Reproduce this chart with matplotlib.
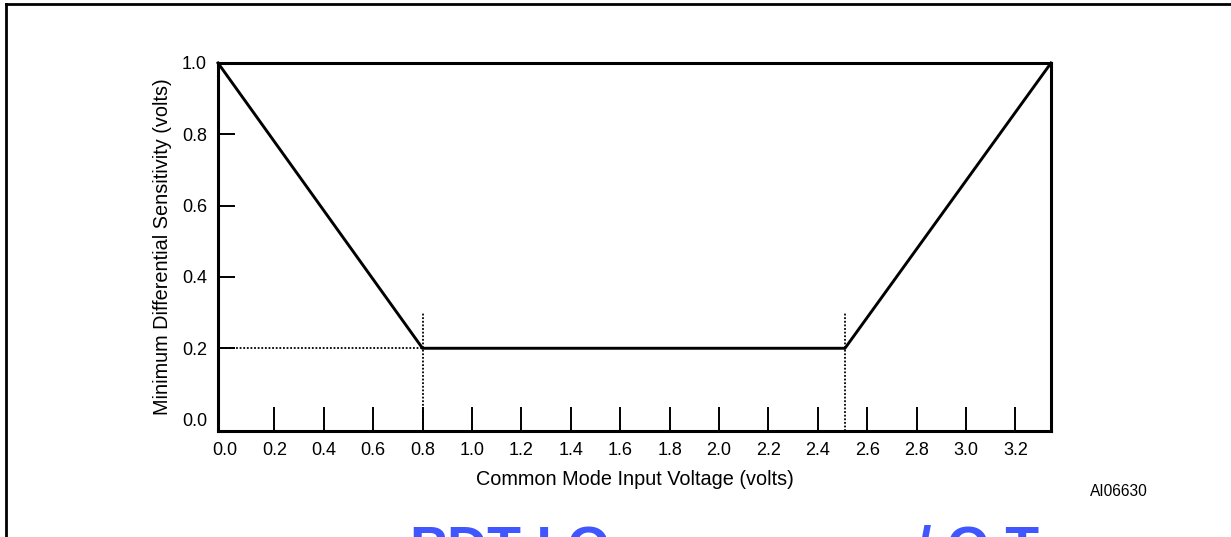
import matplotlib.pyplot as plt
from matplotlib.lines import Line2D

plt.rcParams['font.family'] = ['Liberation Sans', 'DejaVu Sans']

# sensitivity curve (common mode voltage vs min. differential sensitivity)
vcm = [-0.028, 0.8, 2.51, 3.344]
vdiff = [1.0, 0.2, 0.2, 1.0]

# dotted guide lines
guide_h_x = [-0.028, 0.8]
guide_h_y = [0.2, 0.2]
guide_v_x = [0.8, 2.51]
guide_v_top = 0.3

x_ticks = [0.0, 0.2, 0.4, 0.6, 0.8, 1.0, 1.2, 1.4, 1.6, 1.8, 2.0, 2.2, 2.4, 2.6, 2.8, 3.0, 3.2]
x_marks = [0.2, 0.4, 0.6, 0.8, 1.0, 1.2, 1.4, 1.6, 1.8, 2.0, 2.2, 2.4, 2.6, 2.8, 3.0, 3.2]
y_ticks = [0.0, 0.2, 0.4, 0.6, 0.8, 1.0]
y_marks = [0.2, 0.4, 0.6, 0.8]

fig = plt.figure(figsize=(12.31, 5.37), dpi=100)
ax = fig.add_axes([218 / 1231, 1 - 431 / 537, (1051 - 218) / 1231, (431 - 63) / 537])

ax.plot(vcm, vdiff, color='black', linewidth=2.1, solid_joinstyle='miter', clip_on=False, zorder=3)
ax.plot(guide_h_x, guide_h_y, color='black', linewidth=1.3, linestyle=(0, (1, 1)), zorder=2)
for gx in guide_v_x:
    ax.plot([gx, gx], [-0.032, guide_v_top], color='black', linewidth=1.3,
            linestyle=(0, (1, 1)), zorder=2)

ax.set_xlim(-0.028, 3.344)
ax.set_ylim(-0.032, 1.0)

# tick labels without marks, marks drawn as minor ticks
ax.xaxis.remove_overlapping_locs = False
ax.yaxis.remove_overlapping_locs = False
ax.set_xticks(x_ticks)
ax.set_xticklabels([f'{v:.1f}' for v in x_ticks])
ax.set_yticks(y_ticks)
ax.set_yticklabels([f'{v:.1f}' for v in y_ticks])
ax.set_xticks(x_marks, minor=True)
ax.set_yticks(y_marks, minor=True)
ax.tick_params(which='major', length=0, labelsize=13, pad=8)
ax.tick_params(which='minor', direction='in', width=1.4, color='black')
ax.tick_params(axis='x', which='minor', length=17)
ax.tick_params(axis='y', which='minor', length=12)

for s in ax.spines.values():
    s.set_linewidth(2.2)

ax.set_xlabel('Common Mode Input Voltage (volts)', fontsize=14.3, labelpad=8)
ax.set_ylabel('Minimum Differential Sensitivity (volts)', fontsize=14.3, labelpad=7)

fig.text(1090 / 1231, 1 - 492 / 537, 'AI06630', fontsize=11.2, va='center', ha='left')

# page frame
fig.add_artist(Line2D([6 / 1231, 6 / 1231], [0, 1 - 4 / 537], color='black', linewidth=2))
fig.add_artist(Line2D([6 / 1231, 1], [1 - 4 / 537, 1 - 4 / 537], color='black', linewidth=2))

# clipped heading below the figure
fig.text(410 / 1231, 1 - 565 / 537, 'PDT I O', fontsize=40, color='#4056ff',
         fontweight='bold', ha='left', va='baseline')
fig.text(916 / 1231, 1 - 565 / 537, '/ O T', fontsize=40, color='#4056ff',
         fontweight='bold', ha='left', va='baseline')

fig.savefig('out.png', dpi=100)
